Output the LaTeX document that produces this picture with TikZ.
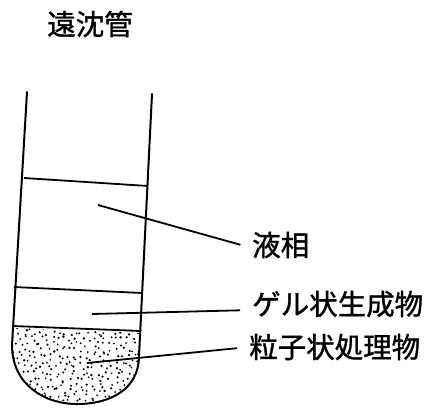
\documentclass[tikz,border=0pt]{standalone}
\usepackage{fontspec}
\newfontfamily\jpfont[FakeBold=1.2]{Noto Sans CJK JP}
\begin{document}
\begin{tikzpicture}[x=1pt,y=-1pt,
  wall/.style={line width=2pt, line cap=round},
  layer/.style={line width=1.8pt},
  leader/.style={line width=1.8pt, shorten >=12pt},
  grain/.style={fill=black},
  lbl/.style={font=\jpfont\fontsize{28.5}{28.5}\selectfont, anchor=west, inner sep=0pt}]
\useasboundingbox (0,0) rectangle (427,407);

% title
\node[lbl, anchor=center] (title) at (90,24) {遠沈管};

% tube walls
\coordinate (lt) at (27,92);
\coordinate (lb) at (12,345);
\coordinate (rt) at (152,94);
\coordinate (rb) at (139,356);
\draw[wall] (lt) -- (lb);
\draw[wall] (rt) -- (rb);
% round bottom
\draw[wall] (lb) .. controls (12,385) and (45,404) .. (77,404)
                 .. controls (112,404) and (139,388) .. (rb);

% stippled pellet: jittered grid of grains
\begin{scope}
  \clip (13,328) -- (141,333) -- (rb) .. controls (139,388) and (112,402) .. (77,402)
        .. controls (45,402) and (12,385) .. (lb) -- cycle;
  \pgfmathsetseed{11}
  \foreach \gx in {0,...,23}{
    \foreach \gy in {0,...,13}{
      \pgfmathsetmacro{\px}{12+5.8*\gx+2.6*rand}
      \pgfmathsetmacro{\py}{327+5.8*\gy+2.6*rand}
      \pgfmathsetmacro{\pr}{0.9+0.45*rnd}
      \fill[grain] (\px,\py) circle (\pr);
    }
  }
\end{scope}

% layer boundaries
\draw[layer] (24,178) -- (148,186);
\draw[layer] (14,287) -- (142,293);
\draw[layer] (13,326) -- (141,331);

% labels and leaders
\node[lbl] (liq) at (252,245) {液相};
\node[lbl] (gel) at (252,304) {ゲル状生成物};
\node[lbl] (pel) at (249,347) {粒子状処理物};

\coordinate (pliq) at (98,205);
\coordinate (pgel) at (92,314);
\coordinate (ppel) at (87,363);
\draw[leader] (pliq) -- ([yshift=-3pt]liq.west);
\draw[leader] (pgel) -- ([yshift=-6pt]gel.west);
\draw[leader] (ppel) -- (pel.west);
\end{tikzpicture}
\end{document}
